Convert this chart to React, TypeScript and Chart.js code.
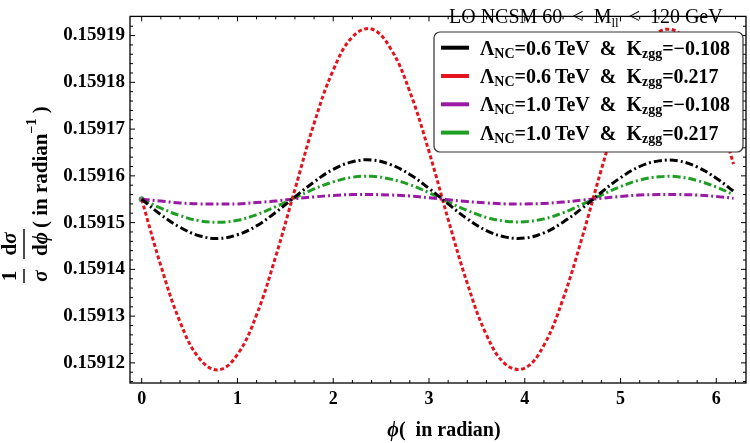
import React, { useEffect, useRef } from "react";
import { Chart, registerables } from "chart.js";
Chart.register(...registerables);

// ---- data ----
const phi = [0, 0.2, 0.4, 0.6, 0.8, 1.0, 1.2, 1.4, 1.6, 1.8, 2.0, 2.2, 2.4, 2.6, 2.8, 3.0, 3.2, 3.4, 3.6, 3.8, 4.0, 4.2, 4.4, 4.6, 4.8, 5.0, 5.2, 5.4, 5.6, 5.8, 6.0, 6.18];

const blackVals = [0.1591550, 0.1591517, 0.1591490, 0.1591472, 0.1591466, 0.1591474, 0.1591493, 0.1591522, 0.1591555, 0.1591587, 0.1591614, 0.1591630, 0.1591634, 0.1591624, 0.1591603, 0.1591573, 0.1591540, 0.1591508, 0.1591483, 0.1591469, 0.1591467, 0.1591478, 0.1591501, 0.1591531, 0.1591565, 0.1591596, 0.1591620, 0.1591632, 0.1591632, 0.1591619, 0.1591595, 0.1591567];
const redVals = [0.1591550, 0.1591408, 0.1591288, 0.1591210, 0.1591185, 0.1591218, 0.1591303, 0.1591428, 0.1591571, 0.1591712, 0.1591826, 0.1591897, 0.1591914, 0.1591872, 0.1591780, 0.1591652, 0.1591507, 0.1591370, 0.1591260, 0.1591197, 0.1591189, 0.1591238, 0.1591337, 0.1591469, 0.1591614, 0.1591749, 0.1591852, 0.1591908, 0.1591907, 0.1591850, 0.1591746, 0.1591625];
const purpleVals = [0.1591550, 0.1591546, 0.1591542, 0.1591540, 0.1591540, 0.1591540, 0.1591543, 0.1591546, 0.1591551, 0.1591555, 0.1591558, 0.1591560, 0.1591560, 0.1591559, 0.1591557, 0.1591553, 0.1591549, 0.1591545, 0.1591542, 0.1591540, 0.1591540, 0.1591541, 0.1591544, 0.1591548, 0.1591552, 0.1591556, 0.1591559, 0.1591560, 0.1591560, 0.1591559, 0.1591556, 0.1591552];
const greenVals = [0.1591550, 0.1591531, 0.1591515, 0.1591504, 0.1591501, 0.1591505, 0.1591517, 0.1591534, 0.1591553, 0.1591572, 0.1591587, 0.1591597, 0.1591599, 0.1591593, 0.1591581, 0.1591564, 0.1591544, 0.1591526, 0.1591511, 0.1591503, 0.1591502, 0.1591508, 0.1591521, 0.1591539, 0.1591559, 0.1591577, 0.1591591, 0.1591598, 0.1591598, 0.1591590, 0.1591576, 0.1591560];

const xTicks = [0, 1, 2, 3, 4, 5, 6];
const yTicks = [0.15912, 0.15913, 0.15914, 0.15915, 0.15916, 0.15917, 0.15918, 0.15919];

const lambdaLabels = ["0.6", "0.6", "1.0", "1.0"];
const kLabels = ["\u22120.108", "0.217", "\u22120.108", "0.217"];
const titleMain = "LO NCSM 60  <  M";
const titleSub = "ll";
const titleEnd = "  <  120 GeV";

const SERIF = '"Liberation Serif", "Times New Roman", serif';
const colors = ["#000000", "#e2151e", "#9a1aa3", "#1f9e24"];
const dashes = [[8, 3, 2, 3], [4, 2.5], [8, 3, 2, 3], [8, 3, 2, 3]];
const seriesVals = [blackVals, redVals, purpleVals, greenVals];

type Part = [string, string, number];

function drawSeq(ctx: CanvasRenderingContext2D, x: number, y: number, parts: Part[]) {
  let cx = x;
  for (const [t, f, dy] of parts) {
    ctx.font = f;
    ctx.fillText(t, cx, y + dy);
    cx += ctx.measureText(t).width;
  }
  return cx;
}
function seqWidth(ctx: CanvasRenderingContext2D, parts: Part[]) {
  let w = 0;
  for (const [t, f] of parts) {
    ctx.font = f;
    w += ctx.measureText(t).width;
  }
  return w;
}
// rotated (-90deg) sequence; baseline at screen x = sx; centered at / starting from screen y = sy
function rotSeq(ctx: CanvasRenderingContext2D, sx: number, sy: number, parts: Part[], align: "center" | "left") {
  ctx.save();
  ctx.translate(sx, sy);
  ctx.rotate(-Math.PI / 2);
  ctx.textAlign = "left";
  ctx.textBaseline = "alphabetic";
  const w = seqWidth(ctx, parts);
  const start = align === "center" ? -w / 2 : 0;
  drawSeq(ctx, start, 0, parts);
  ctx.restore();
}

const overlay = {
  id: "overlay",
  afterDraw(chart: any) {
    const ctx: CanvasRenderingContext2D = chart.ctx;
    const { left, right, top, bottom } = chart.chartArea;
    const xs = chart.scales.x;
    const ys = chart.scales.y;
    ctx.save();
    ctx.strokeStyle = "#000";
    ctx.fillStyle = "#000";
    ctx.lineWidth = 1.3;
    ctx.strokeRect(left, top, right - left, bottom - top);
    ctx.lineWidth = 1;
    ctx.beginPath();
    for (let i = 0; i <= 40; i++) {
      const v = i * 0.2;
      const px = xs.getPixelForValue(v);
      if (px > right - 1) break;
      const len = i % 5 === 0 ? 5 : 3;
      ctx.moveTo(px, bottom);
      ctx.lineTo(px, bottom - len);
      ctx.moveTo(px, top);
      ctx.lineTo(px, top + len);
    }
    for (let k = -5; k <= 45; k++) {
      const v = 0.15912 + k * 0.000002;
      const py = ys.getPixelForValue(v);
      if (py > bottom - 1 || py < top + 1) continue;
      const len = ((k % 5) + 5) % 5 === 0 ? 5 : 3;
      ctx.moveTo(left, py);
      ctx.lineTo(left + len, py);
      ctx.moveTo(right, py);
      ctx.lineTo(right - len, py);
    }
    ctx.stroke();

    // title
    ctx.textAlign = "left";
    ctx.textBaseline = "alphabetic";
    drawSeq(ctx, 449, 23, [
      [titleMain, `20px ${SERIF}`, 0],
      [titleSub, `13px ${SERIF}`, 4],
      [titleEnd, `20px ${SERIF}`, 0],
    ]);

    // legend box
    const bx = 434, by = 32, bw = 309, bh = 120;
    ctx.beginPath();
    (ctx as any).roundRect(bx, by, bw, bh, 6);
    ctx.fillStyle = "#ffffff";
    ctx.fill();
    ctx.strokeStyle = "#333";
    ctx.lineWidth = 1.2;
    ctx.stroke();
    for (let i = 0; i < 4; i++) {
      const cy = 47.7 + i * 28.3;
      ctx.strokeStyle = colors[i];
      ctx.lineWidth = 4;
      ctx.setLineDash([]);
      ctx.beginPath();
      ctx.moveTo(441, cy);
      ctx.lineTo(469, cy);
      ctx.stroke();
      ctx.fillStyle = "#000";
      const main = `bold 20px ${SERIF}`;
      const sub = `bold 14px ${SERIF}`;
      drawSeq(ctx, 480, cy + 7, [
        ["\u039B", main, 0],
        ["NC", sub, 3],
        ["=" + lambdaLabels[i] + "\u2009TeV  &  K", main, 0],
        ["zgg", sub, 3],
        ["=" + kLabels[i], main, 0],
      ]);
    }

    // x title
    ctx.fillStyle = "#000";
    const xParts: Part[] = [
      ["\u03D5", `bold italic 20px ${SERIF}`, 0],
      ["(  in radian)", `bold 20px ${SERIF}`, 0],
    ];
    const xw = seqWidth(ctx, xParts);
    drawSeq(ctx, 444 - xw / 2, 436, xParts);

    // y title (rotated)
    const yb = `bold 21px ${SERIF}`;
    const yi = `bold italic 21px ${SERIF}`;
    // fraction 1/sigma
    rotSeq(ctx, 16, 276, [["1", yb, 0]], "center");
    rotSeq(ctx, 47, 276, [["\u03C3", yi, 0]], "center");
    // fraction d sigma / d phi
    rotSeq(ctx, 16, 244, [["d", yb, 0], ["\u03C3", yi, 0]], "center");
    rotSeq(ctx, 47, 244, [["d", yb, 0], ["\u03D5", yi, 0]], "center");
    ctx.strokeStyle = "#000";
    ctx.lineWidth = 1.4;
    ctx.beginPath();
    ctx.moveTo(24, 269);
    ctx.lineTo(24, 283);
    ctx.moveTo(24, 229);
    ctx.lineTo(24, 259);
    ctx.stroke();
    rotSeq(ctx, 47, 228, [
      ["( in radian", yb, 0],
      ["\u22121", `bold 14px ${SERIF}`, -11],
      [" )", yb, 0],
    ], "left");
    ctx.restore();
  },
};

export default function App() {
  const ref = useRef<HTMLCanvasElement | null>(null);
  useEffect(() => {
    if (!ref.current) return;
    const datasets = seriesVals.map((vals, i) => ({
      label: "s" + i,
      data: phi.map((p, j) => ({ x: p, y: vals[j] })),
      showLine: true,
      borderColor: colors[i],
      borderWidth: 3,
      borderDash: dashes[i],
      tension: 0.4,
      fill: false,
      pointRadius: i === 3 ? (c: any) => (c.dataIndex === 0 ? 3 : 0) : 0,
      pointBackgroundColor: "#5b8f5b",
      pointBorderWidth: 0,
    }));
    const chart = new Chart(ref.current, {
      type: "scatter",
      data: { datasets },
      plugins: [overlay],
      options: {
        animation: false,
        responsive: false,
        devicePixelRatio: 1,
        layout: { padding: { left: 0, right: 2, top: 1, bottom: 0 } },
        plugins: { legend: { display: false }, tooltip: { enabled: false } },
        scales: {
          x: {
            type: "linear",
            min: -0.122,
            max: 6.31,
            grid: { display: false, drawTicks: false },
            border: { display: false },
            afterBuildTicks: (axis: any) => {
              axis.ticks = xTicks.map((v) => ({ value: v }));
            },
            afterFit: (axis: any) => {
              axis.height = 60;
            },
            ticks: {
              autoSkip: false,
              maxRotation: 0,
              padding: 6,
              color: "#000",
              font: { family: SERIF, size: 18, weight: "bold" },
              callback: (v: any) => String(v),
            },
          },
          y: {
            type: "linear",
            min: 0.1591157,
            max: 0.1591941,
            grid: { display: false, drawTicks: false },
            border: { display: false },
            afterBuildTicks: (axis: any) => {
              axis.ticks = yTicks.map((v) => ({ value: v }));
            },
            afterFit: (axis: any) => {
              axis.width = 130;
            },
            ticks: {
              autoSkip: false,
              padding: 5,
              color: "#000",
              font: { family: SERIF, size: 19, weight: "bold" },
              callback: (v: any) => Number(v).toFixed(5),
            },
          },
        },
      } as any,
    });
    return () => chart.destroy();
  }, []);
  return (
    <div style={{ position: "fixed", left: 0, top: 0, width: 750, height: 443, background: "#fff" }}>
      <canvas ref={ref} width={750} height={443} style={{ width: 750, height: 443, display: "block" }} />
    </div>
  );
}
